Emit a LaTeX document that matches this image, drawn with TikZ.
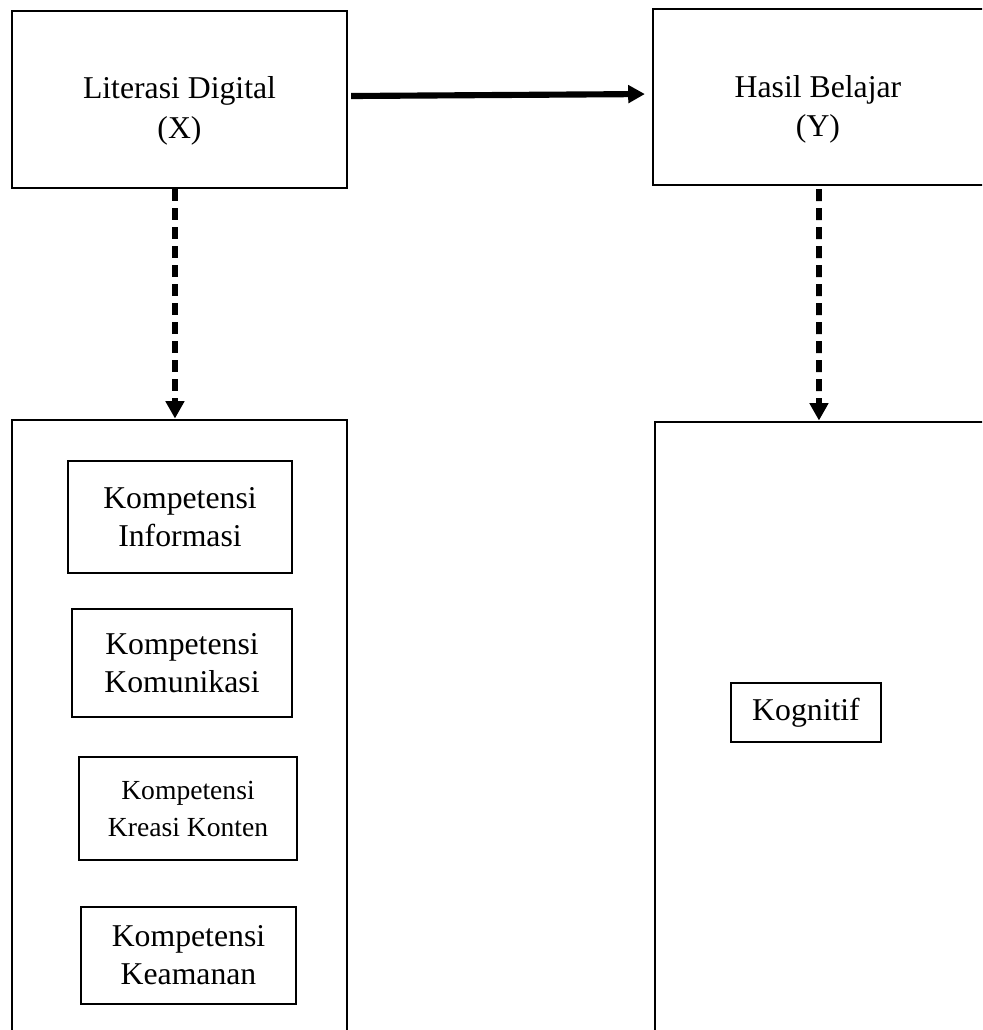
\documentclass[tikz,border=0pt]{standalone}
\usepackage{fontspec}
\setmainfont{Liberation Serif}
\usetikzlibrary{arrows.meta}
\begin{document}
\begin{tikzpicture}[x=0.75pt,y=-0.75pt]
\tikzset{
 outerbox/.style={draw, line width=2.2pt, inner sep=0pt},
 innerbox/.style={draw, line width=1.6pt, inner sep=0pt, align=center, font=\fontsize{23.8}{28.5}\selectfont},
 lbl/.style={align=center, inner sep=0pt, font=\fontsize{23.8}{29.5}\selectfont},
 solidarrow/.style={line width=4.6pt, -{Triangle[length=12.5pt,width=13pt]}},
 dasharrow/.style={line width=4.3pt, dash pattern=on 9pt off 5.25pt, -{Triangle[length=13pt,width=13.5pt]}},
}
\clip (0,0) rectangle (982,1030);
\fill[white] (0,0) rectangle (982,1030);
% top boxes
\node[outerbox, minimum width=251.25pt, minimum height=132.75pt] (bx) at (179.5,99.5) {};
\node[lbl] (tx) at (179.5,111) {Literasi Digital\\(X)};
\node[outerbox, minimum width=260.25pt, minimum height=132pt] (by) at (826.5,97) {};
\node[lbl] (ty) at (818,109.5) {Hasil Belajar\\(Y)};
% bottom boxes
\node[outerbox, minimum width=251.25pt, minimum height=472.5pt] (bl) at (179.5,735) {};
\node[outerbox, minimum width=258.75pt, minimum height=471pt] (br) at (827.5,736) {};
% inner boxes
\node[innerbox, minimum width=168pt, minimum height=84pt] (k1) at (180,517) {Kompetensi\\Informasi};
\node[innerbox, minimum width=165pt, minimum height=81pt] (k2) at (182,663) {Kompetensi\\Komunikasi};
\node[innerbox, minimum width=163.5pt, minimum height=77.25pt, font=\fontsize{20.7}{27.75}\selectfont] (k3) at (188,808.5) {Kompetensi\\Kreasi Konten};
\node[innerbox, minimum width=161.25pt, minimum height=72.75pt] (k4) at (188.5,955.5) {Kompetensi\\Keamanan};
\node[innerbox, minimum width=112.5pt, minimum height=44.25pt] (kg) at (806,712.5) {Kognitif};
% connectors
\draw[solidarrow, shorten <=2pt, shorten >=5pt] ([yshift=2.6pt]bx.east) -- ([yshift=2.25pt]by.west);
\draw[dasharrow] ([xshift=-3.4pt]bx.south) -- ([xshift=-3.4pt]bl.north);
\draw[dasharrow, shorten <=2pt] ([xshift=-5.6pt]by.south) -- ([xshift=-6.4pt]br.north);
\end{tikzpicture}
\end{document}
